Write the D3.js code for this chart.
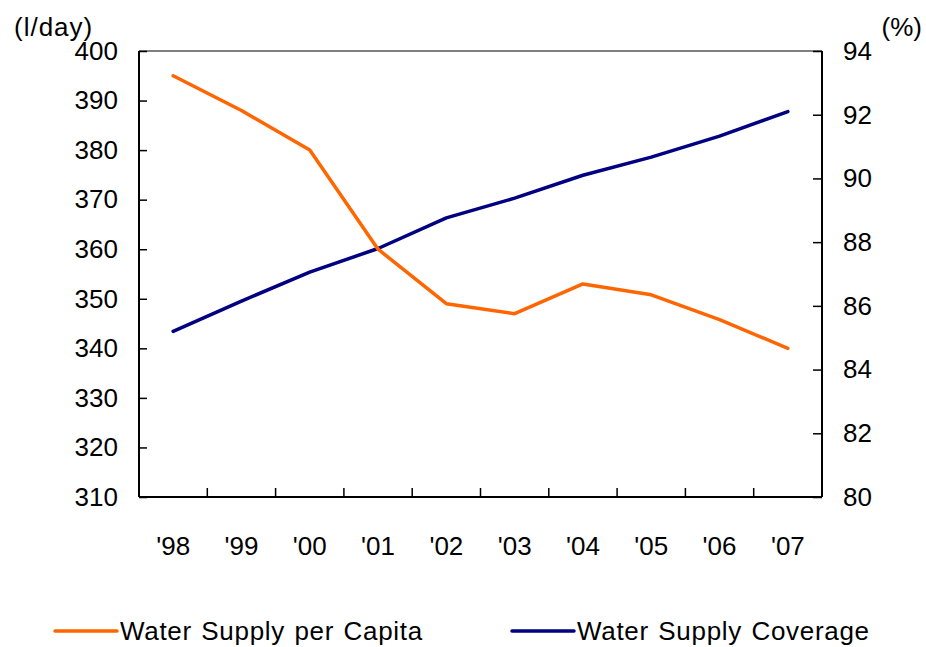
<!DOCTYPE html>
<html>
<head>
<meta charset="utf-8">
<script src="https://cdn.jsdelivr.net/npm/d3@7"></script>
<style>
  body { margin: 0; background: #fff; }
  svg { font-family: "Liberation Sans", Arial, sans-serif; }
</style>
</head>
<body>
<script>
const width = 926;
const height = 647;

const years = ["'98", "'99", "'00", "'01", "'02", "'03", "'04", "'05", "'06", "'07"];
const perCapita = [395, 388, 380, 360, 349, 347, 353, 350.8, 345.8, 340];
const coverage = [85.2, 86.15, 87.06, 87.8, 88.76, 89.38, 90.1, 90.67, 91.33, 92.1];
const leftTicks = [310, 320, 330, 340, 350, 360, 370, 380, 390, 400];
const rightTicks = [80, 82, 84, 86, 88, 90, 92, 94];

const plotL = 139, plotR = 822, plotT = 51, plotB = 497;
const fontSize = 26;

const x = d3.scaleBand().domain(years).range([plotL, plotR]);
const yL = d3.scaleLinear().domain([310, 400]).range([plotB, plotT]);
const yR = d3.scaleLinear().domain([80, 94]).range([plotB, plotT]);
const cx = d => x(d) + x.bandwidth() / 2;

const svg = d3.select('body').append('svg')
    .attr('width', width)
    .attr('height', height);

// top frame line (gray)
svg.append('line')
    .attr('x1', plotL).attr('x2', plotR)
    .attr('y1', plotT).attr('y2', plotT)
    .attr('stroke', '#808080').attr('stroke-width', 2);

// left axis
const gL = svg.append('g')
    .attr('transform', `translate(${plotL},0)`)
    .call(d3.axisLeft(yL).tickValues(leftTicks).tickSize(-8).tickPadding(21).tickSizeOuter(0));

// right axis
const gR = svg.append('g')
    .attr('transform', `translate(${plotR},0)`)
    .call(d3.axisRight(yR).tickValues(rightTicks).tickSize(-9).tickPadding(21).tickSizeOuter(0));

// bottom axis: labels at band centers, ticks at band boundaries
const gB = svg.append('g')
    .attr('transform', `translate(0,${plotB})`)
    .call(d3.axisBottom(x).tickSize(0).tickPadding(40).tickSizeOuter(0));

gB.selectAll('.bt')
    .data(years.slice(1))
    .enter().append('line')
    .attr('x1', d => x(d)).attr('x2', d => x(d))
    .attr('y1', 0).attr('y2', -9)
    .attr('stroke', '#000').attr('stroke-width', 1.5);

[gL, gR, gB].forEach(g => {
    g.selectAll('.domain').attr('stroke', '#000').attr('stroke-width', 2);
    g.selectAll('.tick line').attr('stroke', '#000').attr('stroke-width', 1.5);
    g.selectAll('.tick text')
        .attr('fill', '#000')
        .style('font-size', fontSize + 'px')
        .style('font-family', '"Liberation Sans", Arial, sans-serif');
});
gL.select('.domain').attr('d', `M0,${plotT}V${plotB}`);
gR.select('.domain').attr('d', `M0,${plotT}V${plotB}`);
gB.select('.domain').attr('d', `M${plotL},0H${plotR}`);

// unit labels
svg.append('text')
    .attr('x', 14).attr('y', 36)
    .style('font-size', fontSize + 'px')
    .style('letter-spacing', '1px')
    .text('(l/day)');
svg.append('text')
    .attr('x', 922).attr('y', 36)
    .attr('text-anchor', 'end')
    .style('font-size', fontSize + 'px')
    .text('(%)');

// lines
const lineL = d3.line().x((d, i) => cx(years[i])).y(d => yL(d));
const lineR = d3.line().x((d, i) => cx(years[i])).y(d => yR(d));

svg.append('path')
    .attr('d', lineR(coverage))
    .attr('fill', 'none')
    .attr('stroke', '#000080')
    .attr('stroke-width', 3.5)
    .attr('stroke-linejoin', 'round')
    .attr('stroke-linecap', 'round');

svg.append('path')
    .attr('d', lineL(perCapita))
    .attr('fill', 'none')
    .attr('stroke', '#ff6600')
    .attr('stroke-width', 3.5)
    .attr('stroke-linejoin', 'round')
    .attr('stroke-linecap', 'round');

// legend
const legend = [
    {name: 'Water Supply per Capita', color: '#ff6600', x: 55},
    {name: 'Water Supply Coverage', color: '#000080', x: 512}
];
const lg = svg.selectAll('.legend')
    .data(legend)
    .enter().append('g')
    .attr('transform', d => `translate(${d.x},631)`);
lg.append('line')
    .attr('x1', 0).attr('x2', 62)
    .attr('stroke', d => d.color)
    .attr('stroke-width', 3.5)
    .attr('stroke-linecap', 'round');
lg.append('text')
    .attr('x', 65).attr('y', 9)
    .style('font-size', fontSize + 'px')
    .style('letter-spacing', '0.7px')
    .style('word-spacing', '1.5px')
    .text(d => d.name);
</script>
</body>
</html>
